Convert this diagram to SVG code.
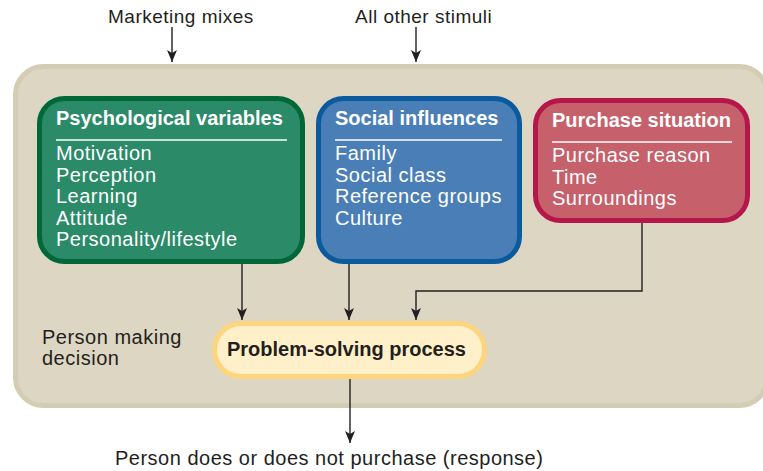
<svg xmlns="http://www.w3.org/2000/svg" width="763" height="471" viewBox="0 0 763 471">
<style>
text{font-family:"Liberation Sans",Arial,Helvetica,sans-serif;}
.lbl{font-size:20px;fill:#231f20;letter-spacing:0.5px;}
.top{font-size:19px;fill:#231f20;letter-spacing:0.5px;}
.ttl{font-size:20px;font-weight:bold;fill:#ffffff;}
.body{font-size:20px;fill:#ffffff;letter-spacing:0.5px;}
.sep{stroke:#ffffff;stroke-opacity:0.75;stroke-width:1.8;}
.conn{fill:none;stroke:#231f20;stroke-width:1.4;}
</style>
<defs>
<marker id="arr" markerUnits="userSpaceOnUse" viewBox="0 0 12 10" refX="12" refY="5" markerWidth="12" markerHeight="10" orient="auto">
<path d="M0,0 L12,5 L0,10 L3,5 z" fill="#231f20"/>
</marker>
</defs>
<rect width="763" height="471" fill="#ffffff"/>
<g id="person-frame">
<rect x="15.5" y="66.5" width="752" height="339" rx="28" fill="#ddd6c3" stroke="#d4ccb4" stroke-width="5"/>
</g>
<g id="marketing-mixes"><text class="top" x="108" y="23">Marketing mixes</text></g>
<g id="other-stimuli"><text class="top" x="355" y="23">All other stimuli</text></g>
<g id="psychological">
<rect x="39.5" y="98.5" width="263" height="163" rx="25" fill="#2b8a68" stroke="#006838" stroke-width="5"/>
<text class="ttl" x="56" y="125">Psychological variables</text>
<line class="sep" x1="56" y1="140" x2="287" y2="140"/>
<text class="body" x="56" y="160">Motivation</text>
<text class="body" x="56" y="181.5">Perception</text>
<text class="body" x="56" y="203">Learning</text>
<text class="body" x="56" y="224.5">Attitude</text>
<text class="body" x="56" y="246">Personality/lifestyle</text>
</g>
<g id="social">
<rect x="318.5" y="98.5" width="201" height="163" rx="25" fill="#4a7eb6" stroke="#0b5a9e" stroke-width="5"/>
<text class="ttl" x="335" y="125">Social influences</text>
<line class="sep" x1="335" y1="140" x2="502" y2="140"/>
<text class="body" x="335" y="160">Family</text>
<text class="body" x="335" y="181.5">Social class</text>
<text class="body" x="335" y="203">Reference groups</text>
<text class="body" x="335" y="224.5">Culture</text>
</g>
<g id="purchase">
<rect x="535.5" y="100.5" width="212" height="120" rx="25" fill="#c6606b" stroke="#b5174a" stroke-width="5"/>
<text class="ttl" x="552" y="127">Purchase situation</text>
<line class="sep" x1="552" y1="142" x2="732" y2="142"/>
<text class="body" x="552" y="162">Purchase reason</text>
<text class="body" x="552" y="183.5">Time</text>
<text class="body" x="552" y="205">Surroundings</text>
</g>
<g id="person-label">
<text class="lbl" x="42" y="344">Person making</text>
<text class="lbl" x="42" y="365">decision</text>
</g>
<g id="problem-solving">
<rect x="214.5" y="323.5" width="270" height="53" rx="26.5" fill="#fff0c9" stroke="#fdd57e" stroke-width="5"/>
<text x="227" y="356" font-size="20" font-weight="bold" fill="#231f20">Problem-solving process</text>
</g>
<g id="response"><text class="lbl" x="115" y="465">Person does or does not purchase (response)</text></g>
<g id="connectors">
<line class="conn" x1="172" y1="27" x2="172" y2="62" marker-end="url(#arr)"/>
<line class="conn" x1="416" y1="27" x2="416" y2="62" marker-end="url(#arr)"/>
<line class="conn" x1="242" y1="264" x2="242" y2="320" marker-end="url(#arr)"/>
<line class="conn" x1="349" y1="264" x2="349" y2="320" marker-end="url(#arr)"/>
<polyline class="conn" points="642,223 642,291 416,291 416,320" marker-end="url(#arr)"/>
<line class="conn" x1="350" y1="379" x2="350" y2="443" marker-end="url(#arr)"/>
</g>
</svg>
